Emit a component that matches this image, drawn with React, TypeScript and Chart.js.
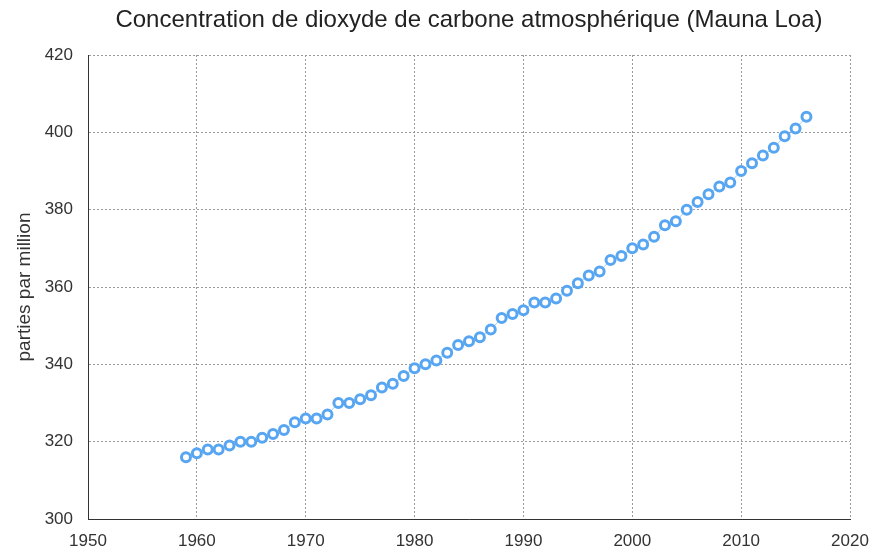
import React, { useEffect, useRef } from 'react';
import { Chart, registerables } from 'chart.js';

Chart.register(...registerables);

const titleText = 'Concentration de dioxyde de carbone atmosphérique (Mauna Loa)';
const yAxisTitle = 'parties par million';

const years = [
  1959, 1960, 1961, 1962, 1963, 1964, 1965, 1966, 1967, 1968,
  1969, 1970, 1971, 1972, 1973, 1974, 1975, 1976, 1977, 1978,
  1979, 1980, 1981, 1982, 1983, 1984, 1985, 1986, 1987, 1988,
  1989, 1990, 1991, 1992, 1993, 1994, 1995, 1996, 1997, 1998,
  1999, 2000, 2001, 2002, 2003, 2004, 2005, 2006, 2007, 2008,
  2009, 2010, 2011, 2012, 2013, 2014, 2015, 2016,
];

const ppm = [
  316, 317, 318, 318, 319, 320, 320, 321, 322, 323,
  325, 326, 326, 327, 330, 330, 331, 332, 334, 335,
  337, 339, 340, 341, 343, 345, 346, 347, 349, 352,
  353, 354, 356, 356, 357, 359, 361, 363, 364, 367,
  368, 370, 371, 373, 376, 377, 380, 382, 384, 386,
  387, 390, 392, 394, 396, 399, 401, 404,
];

const xMin = 1950;
const xMax = 2020;
const xStep = 10;
const yMin = 300;
const yMax = 420;
const yStep = 20;

const FONT = "'Liberation Sans', Arial, sans-serif";

const centeredTitle = {
  id: 'centeredTitle',
  afterDraw(chart: any) {
    const { ctx, chartArea } = chart;
    ctx.save();
    ctx.font = `normal 24px ${FONT}`;
    ctx.fillStyle = '#222';
    ctx.textAlign = 'center';
    ctx.textBaseline = 'middle';
    ctx.fillText(titleText, (chartArea.left + chartArea.right) / 2, 20);
    ctx.restore();
  },
};

export default function App() {
  const ref = useRef<HTMLCanvasElement | null>(null);

  useEffect(() => {
    document.body.style.margin = '0';
    const canvas = ref.current;
    if (!canvas) return;
    const points = years.map((y, i) => ({ x: y, y: ppm[i] }));
    const chart = new Chart(canvas, {
      type: 'scatter',
      data: {
        datasets: [
          {
            data: points,
            showLine: true,
            borderColor: 'rgba(90,166,240,0.55)',
            borderWidth: 1,
            pointBorderColor: '#58a6f2',
            pointBackgroundColor: '#ffffff',
            pointBorderWidth: 3,
            pointRadius: 4.5,
            pointHoverRadius: 4.5,
          },
        ],
      },
      options: {
        animation: false,
        responsive: false,
        maintainAspectRatio: false,
        layout: { padding: { left: 0, right: 21, top: 55, bottom: 0 } },
        plugins: {
          legend: { display: false },
          tooltip: { enabled: false },
          title: { display: false },
        },
        scales: {
          x: {
            type: 'linear',
            min: xMin,
            max: xMax,
            afterFit: (s: any) => { s.height = 30; s.paddingRight = 0; s.paddingLeft = 0; },
            ticks: {
              stepSize: xStep,
              color: '#333',
              padding: 12,
              font: { family: FONT, size: 17 },
              callback: (v: any) => String(v),
            },
            grid: { color: '#9a9a9a', drawTicks: false, lineWidth: 1 },
            border: { display: true, color: '#333', width: 1, dash: [2, 2] },
          },
          y: {
            type: 'linear',
            min: yMin,
            max: yMax,
            afterFit: (s: any) => { s.width = 88; s.paddingTop = 0; s.paddingBottom = 0; },
            ticks: {
              stepSize: yStep,
              color: '#333',
              padding: 15,
              font: { family: FONT, size: 17 },
              callback: (v: any) => String(v),
            },
            grid: { color: '#9a9a9a', drawTicks: false, lineWidth: 1 },
            border: { display: true, color: '#333', width: 1, dash: [2, 2] },
            title: {
              display: true,
              text: yAxisTitle,
              color: '#333',
              font: { family: FONT, size: 19 },
              padding: { top: 13, bottom: 0 },
            },
          },
        },
      },
      plugins: [centeredTitle],
    });
    return () => chart.destroy();
  }, []);

  return (
    <div style={{ width: 871, height: 549, background: '#fff' }}>
      <canvas ref={ref} width={871} height={549} style={{ display: 'block', width: 871, height: 549 }} />
    </div>
  );
}
